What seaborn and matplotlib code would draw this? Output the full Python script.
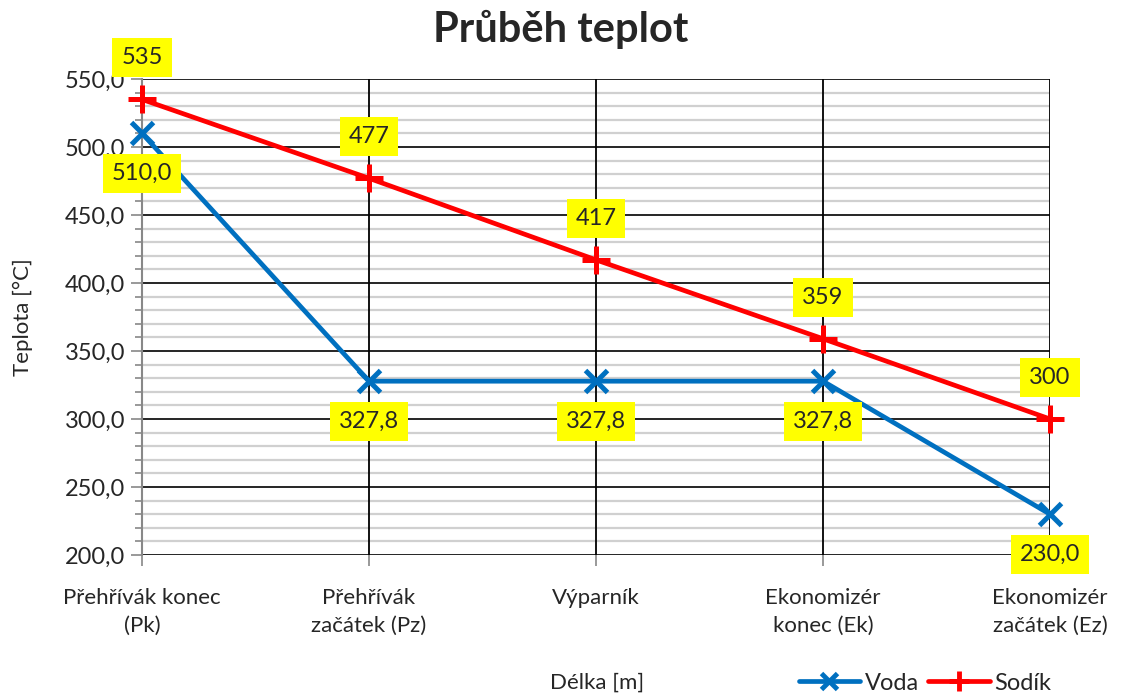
import matplotlib
matplotlib.use("Agg")
import matplotlib.pyplot as plt
import seaborn as sns
import pandas as pd
import numpy as np
from matplotlib.ticker import MultipleLocator, FuncFormatter
from matplotlib.lines import Line2D

categories = ["Přehřívák konec\n(Pk)", "Přehřívák\nzačátek (Pz)", "Výparník",
              "Ekonomizér\nkonec (Ek)", "Ekonomizér\nzačátek (Ez)"]
voda = [510.0, 327.8, 327.8, 327.8, 230.0]
sodik = [535, 477, 417, 359, 300]

sns.set_theme(style="white")
plt.rcParams['font.family'] = ['Lato', 'DejaVu Sans']

df = pd.DataFrame({
    "x": list(range(len(categories))) * 2,
    "T": voda + sodik,
    "serie": ["Voda"] * len(voda) + ["Sodík"] * len(sodik),
})

fig = plt.figure(figsize=(11.22, 6.96), dpi=100)
ax = fig.add_axes([142/1122, 1-555/696, (1050-142)/1122, (555-79)/696])

blue = "#0070C0"
red = "#FF0000"
sns.lineplot(data=df, x="x", y="T", hue="serie", palette={"Voda": blue, "Sodík": red},
             ax=ax, lw=3.4, legend=False, zorder=5)
ax.plot(range(len(voda)), voda, ls="none", marker="x", ms=16, mew=3.6, color=blue, zorder=6, clip_on=False)
ax.plot(range(len(sodik)), sodik, ls="none", marker="+", ms=20, mew=3.6, color=red, zorder=6, clip_on=False)

ax.set_xlim(0, len(categories) - 1)
ax.set_ylim(200, 550)
ax.set_axisbelow(True)
ax.yaxis.set_major_locator(MultipleLocator(50))
ax.yaxis.set_minor_locator(MultipleLocator(10))
ax.yaxis.set_major_formatter(FuncFormatter(lambda v, p: f"{v:.1f}".replace(".", ",")))
ax.grid(which="minor", axis="y", color="#d0d0d0", lw=1.6)
ax.grid(which="major", axis="y", color="black", lw=1.2)
ax.grid(False, axis="x")
for i in range(1, len(categories)):
    ax.axvline(i, color="black", lw=1.3, zorder=2)
ax.set_xticks(range(len(categories)))
ax.set_xticklabels(categories, fontsize=16, linespacing=1.45)
ax.tick_params(axis="y", which="major", labelsize=17, length=8, width=1.2, color="#888888", left=True, pad=4)
ax.tick_params(axis="y", which="minor", length=5, width=1.2, color="#888888", left=True)
ax.tick_params(axis="x", which="major", length=8, width=1.2, color="#888888", bottom=True, pad=16)
for s in ["top", "right", "bottom"]:
    ax.spines[s].set_visible(False)
ax.spines["left"].set_color("#888888")
ax.spines["left"].set_linewidth(1.5)
ax.spines["left"].set_zorder(3)
ax.set_xlabel("")
ax.set_ylabel("Teplota [°C]", fontsize=16)
ax.yaxis.set_label_coords((33-142)/908, 0.5)

fig.text(0.5, 0.958, "Průběh teplot", ha="center", va="center", fontsize=30, fontweight="bold")
fig.text(597/1122, 1-683/696, "Délka [m]", ha="center", va="center", fontsize=16)

box = dict(boxstyle="square,pad=0.38", fc="#FFFF00", ec="none")
for i, v in enumerate(sodik):
    ax.annotate(f"{v}", (i, v), xytext=(0, 30), textcoords="offset points", ha="center", va="center",
                fontsize=17, bbox=box, zorder=10, annotation_clip=False)
for i, v in enumerate(voda):
    ax.annotate(f"{v:.1f}".replace(".", ","), (i, v), xytext=(0, -29), textcoords="offset points",
                ha="center", va="center", fontsize=17, bbox=box, zorder=10, annotation_clip=False)

handles = [Line2D([], [], color=blue, lw=3.4, marker="x", ms=12, mew=3.5),
           Line2D([], [], color=red, lw=3.4, marker="+", ms=15, mew=3.5)]
fig.legend(handles, ["Voda", "Sodík"], loc="center", bbox_to_anchor=(925/1122, 1-683/696), ncol=2,
           frameon=False, fontsize=17, handlelength=2.6, handletextpad=0.2, columnspacing=0.4)

fig.savefig("out.png", dpi=100)
